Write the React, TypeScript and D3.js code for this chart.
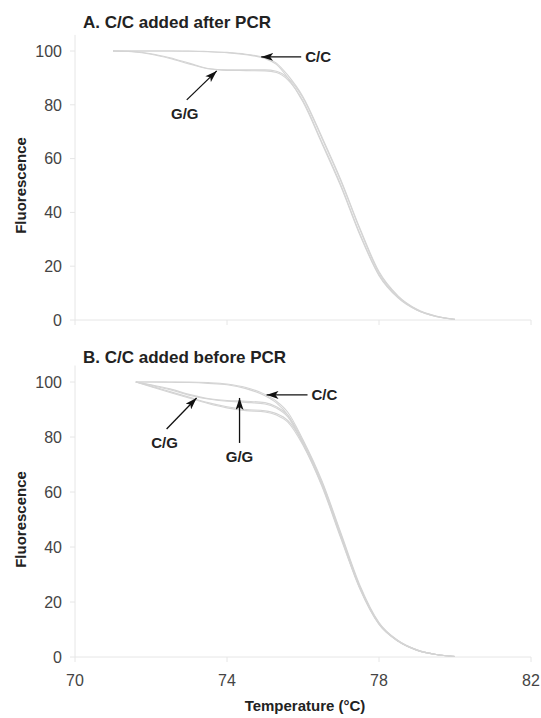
import React from "react";
import * as d3 from "d3";

// ---------- data ----------
const tempA = [71.0, 71.5, 72.0, 72.5, 73.0, 73.5, 74.0, 74.5, 75.0, 75.3, 75.6, 76.0, 76.5, 77.0, 77.5, 78.0, 78.5, 79.0, 79.5, 80.0];
const aCC1 = [100, 100, 100, 100, 100, 99.8, 99.5, 98.8, 97.5, 95.5, 91, 83, 68, 52, 34, 18, 9, 4, 1.5, 0.3];
const aCC2 = [100, 100, 100, 100, 99.9, 99.7, 99.4, 98.6, 97.2, 95, 90, 81, 65.5, 49.5, 31.5, 16.5, 8.2, 3.6, 1.3, 0.2];
const aGG1 = [100, 99.8, 99, 97.5, 95.5, 93.5, 93, 93, 93, 92.5, 90, 82.5, 67.5, 51.5, 33.5, 17.5, 8.8, 3.8, 1.4, 0.3];
const aGG2 = [100, 99.7, 98.8, 97.2, 95.2, 93.4, 92.8, 92.7, 92.6, 92, 89.3, 81.5, 66, 50, 32, 16.8, 8.4, 3.7, 1.3, 0.2];

const tempB = [71.6, 72.0, 72.5, 73.0, 73.5, 74.0, 74.5, 75.0, 75.3, 75.6, 76.0, 76.5, 77.0, 77.5, 78.0, 78.5, 79.0, 79.5, 80.0];
const bCC1 = [100, 100, 100, 100, 99.8, 99.3, 98, 95.5, 93, 89, 79, 64, 45, 26, 12.5, 6, 2.6, 0.9, 0.2];
const bCC2 = [100, 100, 99.9, 99.8, 99.5, 99, 97.6, 95, 92.4, 88, 77.5, 62.5, 43.5, 25, 12, 5.8, 2.5, 0.9, 0.2];
const bGG1 = [100, 99, 97.5, 95.5, 94, 93.3, 93, 92.5, 91, 88, 78.5, 63.5, 44.5, 25.5, 12.3, 5.9, 2.5, 0.9, 0.2];
const bGG2 = [100, 98.8, 97.2, 95.2, 93.8, 93, 92.6, 92, 90.5, 87.3, 77.5, 62.5, 43.5, 25, 12, 5.8, 2.5, 0.9, 0.2];
const bCG1 = [100, 98.5, 96.5, 94.5, 92.5, 91, 90, 89.5, 88.5, 86, 78, 63, 44, 25.2, 12.2, 5.9, 2.5, 0.9, 0.2];
const bCG2 = [100, 98.3, 96.2, 94.2, 92.2, 90.6, 89.6, 89.1, 88, 85.4, 77, 62, 43, 24.6, 11.8, 5.7, 2.4, 0.9, 0.2];

const xTicks = [70, 74, 78, 82];
const yTicks = [0, 20, 40, 60, 80, 100];

const panelTitles = ["A. C/C added after PCR", "B. C/C added before PCR"];

// annotations: label, target temperature, target fluorescence
const annA = [
  { label: "C/C", t: 74.9, v: 97.8, dx: 40, dy: 0, anchor: "start" },
  { label: "G/G", t: 73.73, v: 92.6, dx: -30, dy: 29, anchor: "middle" },
];
const annB = [
  { label: "C/C", t: 75.04, v: 95.3, dx: 41, dy: 0, anchor: "start" },
  { label: "C/G", t: 73.2, v: 94.2, dx: -30, dy: 31, anchor: "middle" },
  { label: "G/G", t: 74.33, v: 94.2, dx: 0, dy: 45, anchor: "middle" },
];

// ---------- layout ----------
const W = 541;
const H = 718;
const x = d3.scaleLinear().domain([70, 82]).range([75, 531]);
const yA = d3.scaleLinear().domain([0, 100]).range([320, 51]);
const yB = d3.scaleLinear().domain([0, 100]).range([657, 382]);

const FONT = "'Liberation Sans', Arial, Helvetica, sans-serif";
const lineColor = "#d4d4d4";
const axisColor = "#e6e6e6";

function Panel({ y, temps, series, ann, title, titleGap, showXLabels }: any) {
  const line = d3
    .line<number>()
    .x((_, i) => x(temps[i]))
    .y((d) => y(d))
    .curve(d3.curveMonotoneX);
  const y0 = y(0);
  const yTop = y(106);
  return (
    <g>
      <text x={83} y={y(100) - titleGap} fontFamily={FONT} fontWeight="bold" fontSize={17} fill="#222">
        {title}
      </text>
      {/* y axis */}
      <line x1={x(70)} x2={x(70)} y1={yTop} y2={y0} stroke={axisColor} strokeWidth={1} />
      {yTicks.map((t) => (
        <g key={t}>
          <line x1={x(70) - 5} x2={x(70)} y1={y(t)} y2={y(t)} stroke={axisColor} />
          <text x={62} y={y(t)} dy="0.36em" textAnchor="end" fontFamily={FONT} fontSize={16} fill="#444">
            {t}
          </text>
        </g>
      ))}
      {/* x axis */}
      <line x1={x(70)} x2={x(82)} y1={y0} y2={y0} stroke={axisColor} strokeWidth={1} />
      {xTicks.map((t) => (
        <g key={t}>
          <line x1={x(t)} x2={x(t)} y1={y0} y2={y0 + 5} stroke={axisColor} />
          {showXLabels && (
            <text x={x(t)} y={y0 + 29} textAnchor="middle" fontFamily={FONT} fontSize={16} fill="#444">
              {t}
            </text>
          )}
        </g>
      ))}
      <text
        transform={`translate(26,${(y(0) + y(100)) / 2}) rotate(-90)`}
        textAnchor="middle"
        fontFamily={FONT}
        fontWeight="bold"
        fontSize={15}
        fill="#222"
      >
        Fluorescence
      </text>
      {/* curves */}
      {series.map((s: number[], i: number) => (
        <path key={i} d={line(s) || ""} fill="none" stroke={lineColor} strokeWidth={1.1} />
      ))}
      {/* annotations */}
      {ann.map((a: any, i: number) => {
        const tx = x(a.t);
        const ty = y(a.v);
        const sx = tx + a.dx;
        const sy = ty + a.dy;
        let lx = sx + 4;
        let ly = sy + 5;
        if (a.anchor === "middle") {
          lx = sx - (a.dx < 0 ? 2 : 0);
          ly = sy + 19;
        }
        return (
          <g key={i}>
            <line x1={sx} y1={sy} x2={tx} y2={ty} stroke="#111" strokeWidth={1.3} markerEnd="url(#arr)" />
            <text x={lx} y={ly} textAnchor={a.anchor} fontFamily={FONT} fontWeight="bold" fontSize={15} fill="#222">
              {a.label}
            </text>
          </g>
        );
      })}
    </g>
  );
}

export default function App() {
  return (
    <svg width={W} height={H} style={{ position: "absolute", left: 0, top: 0, background: "#fff" }}>
      <defs>
        <marker id="arr" viewBox="0 0 12 8" refX="12" refY="4" markerWidth="12" markerHeight="8" markerUnits="userSpaceOnUse" orient="auto">
          <path d="M0,0 L12,4 L0,8 L3,4 Z" fill="#111" />
        </marker>
      </defs>
      <rect width={W} height={H} fill="#fff" />
      <Panel y={yA} temps={tempA} series={[aCC1, aCC2, aGG1, aGG2]} ann={annA} title={panelTitles[0]} titleGap={23} showXLabels={false} />
      <Panel y={yB} temps={tempB} series={[bCC1, bCC2, bGG1, bGG2, bCG1, bCG2]} ann={annB} title={panelTitles[1]} titleGap={19} showXLabels={true} />
      <text x={(x(70) + x(82)) / 2 + 2} y={711} textAnchor="middle" fontFamily={FONT} fontWeight="bold" fontSize={15} fill="#222">
        Temperature (°C)
      </text>
    </svg>
  );
}
